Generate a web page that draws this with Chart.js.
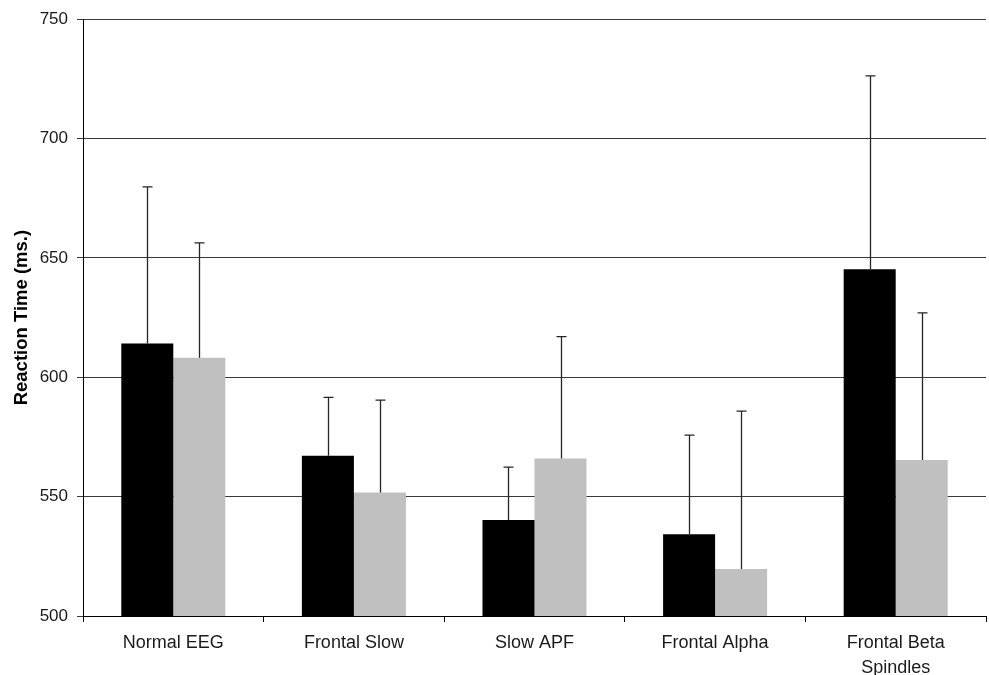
<!DOCTYPE html>
<html>
<head>
<meta charset="utf-8">
<script src="https://cdn.jsdelivr.net/npm/chart.js@4/dist/chart.umd.min.js"></script>
<style>
  html, body { margin: 0; padding: 0; background: #fff; }
  #wrap { width: 989px; height: 675px; position: relative; }
</style>
</head>
<body>
<div id="wrap"><canvas id="c" width="989" height="675"></canvas></div>
<script>
const categories = ['Normal EEG', 'Frontal Slow', 'Slow APF', 'Frontal Alpha', ['Frontal Beta', 'Spindles']];
const seriesA = [614.1, 567.1, 540.2, 534.2, 645.3];
const seriesB = [608.2, 551.7, 566.0, 519.7, 565.4];
const errorsA = [65.7, 24.5, 22.2, 41.6, 81.0];
const errorsB = [48.1, 38.7, 51.0, 66.1, 61.6];
const yTicks = [500, 550, 600, 650, 700, 750];
const yTitle = 'Reaction Time (ms.)';

const errorBarPlugin = {
  id: 'errorBars',
  afterDatasetsDraw(chart) {
    const ctx = chart.ctx;
    const yScale = chart.scales.y;
    ctx.save();
    ctx.strokeStyle = '#262626';
    ctx.lineWidth = 1.3;
    chart.data.datasets.forEach((ds, di) => {
      const meta = chart.getDatasetMeta(di);
      meta.data.forEach((bar, i) => {
        const v = ds.data[i];
        const e = ds.errors[i];
        const yTop = yScale.getPixelForValue(v + e);
        const yBase = yScale.getPixelForValue(v);
        const x = Math.round(bar.x) + 0.5;
        ctx.beginPath();
        ctx.moveTo(x, yBase);
        ctx.lineTo(x, yTop);
        ctx.moveTo(x - 5, yTop);
        ctx.lineTo(x + 5, yTop);
        ctx.stroke();
      });
    });
    ctx.restore();
  }
};

const fontFamily = '"Liberation Sans", Arial, sans-serif';

new Chart(document.getElementById('c'), {
  type: 'bar',
  data: {
    labels: categories,
    datasets: [
      { data: seriesA, errors: errorsA, backgroundColor: '#000000', borderWidth: 0 },
      { data: seriesB, errors: errorsB, backgroundColor: '#c0c0c0', borderWidth: 0 }
    ]
  },
  options: {
    responsive: false,
    animation: false,
    devicePixelRatio: 1,
    layout: { padding: { top: 16, right: 3, left: 0, bottom: 0 } },
    plugins: { legend: { display: false }, tooltip: { enabled: false } },
    datasets: { bar: { barPercentage: 1.0, categoryPercentage: 0.576 } },
    scales: {
      x: {
        grid: { display: true, drawOnChartArea: false, drawTicks: true, tickLength: 6, color: '#000', offset: true },
        border: { display: true, color: '#000', width: 1 },
        ticks: {
          color: '#1a1a1a', padding: 8, autoSkip: false, maxRotation: 0, minRotation: 0,
          font: { family: fontFamily, size: 18, lineHeight: 1.4 }
        },
        afterFit(scale) { scale.height = 59; }
      },
      y: {
        min: 500, max: 750,
        afterBuildTicks(scale) { scale.ticks = yTicks.map(v => ({ value: v })); },
        grid: { display: true, color: '#3a3a3a', lineWidth: 1, drawTicks: true, tickLength: 6 },
        border: { display: true, color: '#000', width: 1 },
        ticks: {
          color: '#1a1a1a', padding: 9,
          font: { family: fontFamily, size: 17 }
        },
        title: {
          display: true, text: yTitle, color: '#000',
          font: { family: fontFamily, size: 18.5, weight: 'bold' },
          padding: { top: 11, bottom: 0 }
        },
        afterFit(scale) { scale.width = 83; }
      }
    }
  },
  plugins: [errorBarPlugin]
});
</script>
</body>
</html>
